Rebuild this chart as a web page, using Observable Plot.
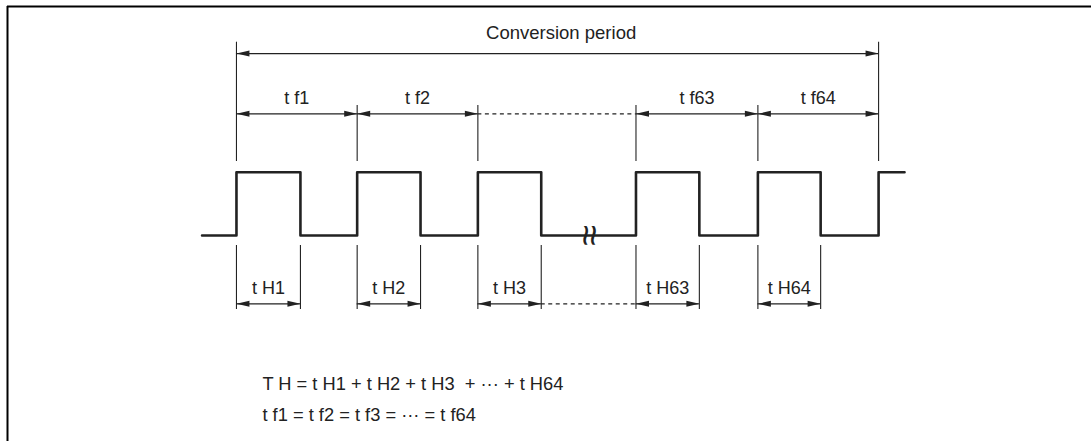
<!DOCTYPE html>
<html><head><meta charset="utf-8">
<script src="https://cdn.jsdelivr.net/npm/d3@7"></script>
<script src="https://cdn.jsdelivr.net/npm/@observablehq/plot@0.6"></script>
<style>body{margin:0;background:#fff;} svg{display:block}</style>
</head><body><div id="chart"></div>
<script>
// ---- data (time in units of one f-period; the gap between pulse 3 and pulse 63 is a compressed break)
const riseTimes = [0, 1, 2, 3.31, 4.32, 5.32];
const fallTimes = [0.53, 1.525, 2.525, 3.835, 4.84];
const signalStart = -0.285;
const signalEnd = 5.535;
const tfLabels = ["t f1", "t f2", null, "t f63", "t f64"];
const tHLabels = ["t H1", "t H2", "t H3", "t H63", "t H64"];
const periodLabel = "Conversion period";
const formulaLines = ["T H = t H1 + t H2 + t H3 \u00a0+ \u00b7\u00b7\u00b7 + t H64", "t f1 = t f2 = t f3 = \u00b7\u00b7\u00b7 = t f64"];
const breakAt = 2.92;
const formulaAt = 0.215;
// annotation rows, in signal-level units (low = 0, high = 1)
const rowPeriodText = 3.196, rowPeriodArrow = 2.875, rowTallTop = 3.054;
const rowTfText = 2.167, rowTfArrow = 1.923, rowShortTop = 2.054, rowUpperBottom = 1.169;
const rowLowerTop = -0.158, rowLowerBottom = -1.169, rowTHArrow = -1.079, rowTHText = -0.825;
const rowFormula = [-2.349, -2.84];

// ---- derived tables
const signal = [{t: signalStart, v: 0}];
riseTimes.forEach((r, i) => {
  signal.push({t: r, v: 1});
  if (i < fallTimes.length) signal.push({t: fallTimes[i], v: 0});
});
signal.push({t: signalEnd, v: 1});

const last = riseTimes.length - 1;
const upperV = riseTimes.map((t, i) => ({t, y1: rowUpperBottom, y2: (i === 0 || i === last) ? rowTallTop : rowShortTop}));
const lowerV = [...riseTimes.slice(0, last), ...fallTimes].map(t => ({t, y1: rowLowerBottom, y2: rowLowerTop}));

const solid = [{a: riseTimes[0], b: riseTimes[last], y: rowPeriodArrow}];
const dashed = [];
const labels = [];
tfLabels.forEach((lab, i) => {
  const seg = {a: riseTimes[i], b: riseTimes[i + 1], y: rowTfArrow};
  if (lab === null) dashed.push(seg);
  else { solid.push(seg); labels.push({t: (seg.a + seg.b) / 2, y: rowTfText, text: lab}); }
});
tHLabels.forEach((lab, i) => {
  const seg = {a: riseTimes[i], b: fallTimes[i], y: rowTHArrow};
  solid.push(seg); labels.push({t: (seg.a + seg.b) / 2, y: rowTHText, text: lab});
});
dashed.push({a: fallTimes[2], b: riseTimes[3], y: rowTHArrow});
const title = [{t: (riseTimes[0] + riseTimes[last]) / 2 + 0.03, y: rowPeriodText, text: periodLabel}];

const headsL = solid.map(s => ({t: s.a, y: s.y}));
const headsR = solid.map(s => ({t: s.b, y: s.y}));
const formula = formulaLines.map((text, i) => ({t: formulaAt, y: rowFormula[i], text}));

const headLeft = {draw(c) { c.moveTo(0, 0); c.lineTo(13, -3); c.lineTo(13, 3); c.closePath(); }};
const headRight = {draw(c) { c.moveTo(0, 0); c.lineTo(-13, -3); c.lineTo(-13, 3); c.closePath(); }};

const ink = "#222";
const font = "Liberation Sans, Arial, Helvetica, sans-serif";
const xDomain = [-1.897, 7.084];
const yDomain = [-3.254, 3.618];

const chart = Plot.plot({
  width: 1091, height: 441,
  marginLeft: 7, marginRight: 0, marginTop: 6, marginBottom: 0,
  x: {domain: xDomain, axis: null},
  y: {domain: yDomain, axis: null},
  marks: [
    Plot.ruleX([xDomain[0]], {stroke: "#000", strokeWidth: 2}),
    Plot.ruleY([yDomain[1]], {stroke: "#000", strokeWidth: 2}),
    Plot.ruleX(upperV, {x: "t", y1: "y1", y2: "y2", stroke: ink, strokeWidth: 1.1}),
    Plot.ruleX(lowerV, {x: "t", y1: "y1", y2: "y2", stroke: ink, strokeWidth: 1.1}),
    Plot.ruleY(solid, {y: "y", x1: "a", x2: "b", stroke: ink, strokeWidth: 1.3}),
    Plot.ruleY(dashed, {y: "y", x1: "a", x2: "b", stroke: ink, strokeWidth: 1.3, strokeDasharray: "4,3.5"}),
    Plot.dot(headsL, {x: "t", y: "y", symbol: headLeft, r: 4, fill: ink, stroke: null}),
    Plot.dot(headsR, {x: "t", y: "y", symbol: headRight, r: 4, fill: ink, stroke: null}),
    Plot.line(signal, {x: "t", y: "v", curve: "step-after", stroke: ink, strokeWidth: 2.6}),
    Plot.text([{t: breakAt, y: 0}], {x: "t", y: "y", text: () => "\u2248", rotate: 90, fontSize: 38, fontWeight: 200, fill: ink, fontFamily: "DejaVu Sans, sans-serif"}),
    Plot.text(title, {x: "t", y: "y", text: "text", fontSize: 18.5, fill: ink, fontFamily: font}),
    Plot.text(labels, {x: "t", y: "y", text: "text", fontSize: 18, fill: ink, fontFamily: font}),
    Plot.text(formula, {x: "t", y: "y", text: "text", textAnchor: "start", fontSize: 18.3, fill: ink, fontFamily: font})
  ]
});
document.getElementById("chart").append(chart);
</script>
</body></html>
